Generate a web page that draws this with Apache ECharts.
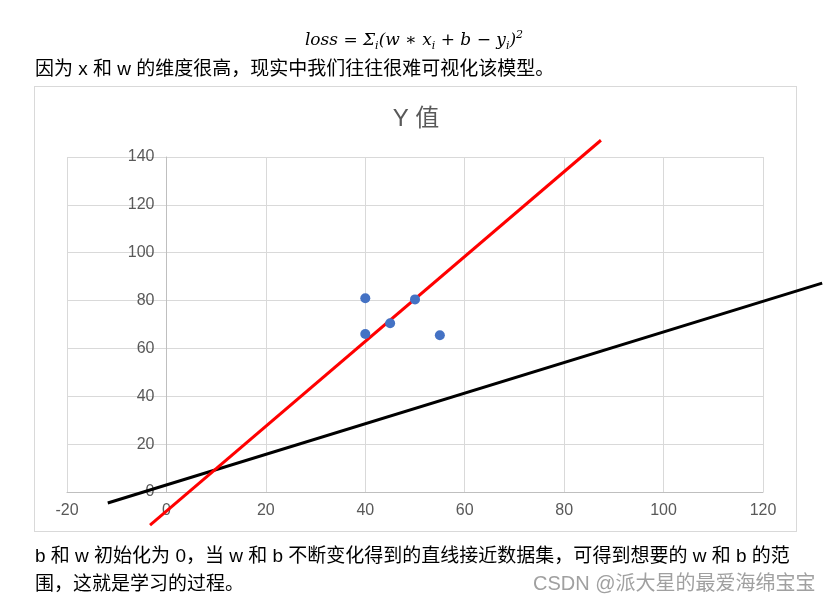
<!DOCTYPE html>
<html><head><meta charset="utf-8">
<script src="https://cdn.jsdelivr.net/npm/echarts@6/dist/echarts.min.js"></script>
<style>
body{margin:0;background:#fff;width:832px;height:602px;overflow:hidden;position:relative;font-family:"Liberation Sans","Noto Sans CJK SC",sans-serif;}
.t{position:absolute;font-size:19px;color:#000;white-space:nowrap;font-family:"Liberation Sans","Noto Sans CJK SC",sans-serif;}
#formula{position:absolute;top:28px;left:0;width:828px;text-align:center;font-family:"DejaVu Serif",serif;font-style:italic;font-size:17px;}
#formula sub{font-size:11px;}
#formula sup{font-size:11px;}
#frame{position:absolute;left:34px;top:86px;width:761px;height:444px;border:1px solid #d9d9d9;}
#chart{position:absolute;left:0;top:0;width:832px;height:602px;}
</style></head>
<body>
<div id="frame"></div>
<div id="chart"></div>
<div id="formula">loss = Σ<sub>i</sub>(w ∗ x<sub>i</sub> + b − y<sub>i</sub>)<sup>2</sup></div>
<div class="t" style="left:35px;top:53px;">因为 x 和 w 的维度很高，现实中我们往往很难可视化该模型。</div>
<div class="t" style="left:35px;top:540px;">b 和 w 初始化为 0，当 w 和 b 不断变化得到的直线接近数据集，可得到想要的 w 和 b 的范</div>
<div class="t" style="left:35px;top:568px;">围，这就是学习的过程。</div>
<div class="t" style="left:533px;top:567px;color:#a0a0a0;font-size:20px;">CSDN @派大星的最爱海绵宝宝</div>
<script>
var titleText = "Y 值";
var points = [[40, 81], [40, 66], [45, 70.5], [50, 80.5], [55, 65.5]];
var redLine = [[-3.3, -13.8], [87.4, 147]];
var blackLine = [[-11.8, -4.6], [131.9, 87.3]];
var xTicks = {min: -20, max: 120, interval: 20};
var yTicks = {min: 0, max: 140, interval: 20};
var xExtendedMax = 140;

var chart = echarts.init(document.getElementById('chart'));
var labelStyle = {color: '#595959', fontSize: 16, fontFamily: 'Liberation Sans'};
var gridLeft = 67, gridRight = 69, gridTop = 157, gridBottom = 110;
var plotW = 832 - gridLeft - gridRight;
var pxPerUnit = plotW / (xTicks.max - xTicks.min);
var zeroOffset = -pxPerUnit * (0 - xTicks.min);
var grid2Right = 832 - gridLeft - pxPerUnit * (xExtendedMax - xTicks.min);
chart.setOption({
  animation: false,
  backgroundColor: 'transparent',
  title: {text: titleText, left: 'center', top: 102, textStyle: {color: '#595959', fontSize: 24, fontWeight: 'normal', fontFamily: 'Liberation Sans, Noto Sans CJK SC'}},
  grid: [
    {left: gridLeft, right: gridRight, top: gridTop, bottom: gridBottom, containLabel: false, outerBoundsMode: 'none'},
    {left: gridLeft, right: grid2Right, top: gridTop, bottom: gridBottom, containLabel: false, outerBoundsMode: 'none'}
  ],
  xAxis: [
    {type: 'value', gridIndex: 0, min: xTicks.min, max: xTicks.max, interval: xTicks.interval,
      axisLine: {show: true, onZero: true, lineStyle: {color: '#bfbfbf'}},
      axisTick: {show: false},
      axisLabel: Object.assign({margin: 11}, labelStyle),
      splitLine: {show: true, lineStyle: {color: '#d9d9d9'}}},
    {type: 'value', gridIndex: 1, min: xTicks.min, max: xExtendedMax, show: false, splitLine: {show: false}}
  ],
  yAxis: [
    {type: 'value', gridIndex: 0, min: yTicks.min, max: yTicks.max, interval: yTicks.interval,
      offset: zeroOffset,
      axisLine: {show: true, onZero: false, lineStyle: {color: '#bfbfbf'}},
      axisTick: {show: false},
      axisLabel: Object.assign({margin: 12}, labelStyle),
      splitLine: {show: true, lineStyle: {color: '#d9d9d9'}}},
    {type: 'value', gridIndex: 1, min: yTicks.min, max: yTicks.max, show: false, splitLine: {show: false}}
  ],
  series: [
    {type: 'line', xAxisIndex: 1, yAxisIndex: 1, data: blackLine, symbol: 'none', clip: false, lineStyle: {color: '#000', width: 3}, z: 3},
    {type: 'line', data: redLine, symbol: 'none', clip: false, lineStyle: {color: '#ff0000', width: 3}, z: 4},
    {type: 'scatter', data: points, symbolSize: 10, itemStyle: {color: '#4472c4', opacity: 1}, z: 5}
  ]
});
</script>
</body></html>
